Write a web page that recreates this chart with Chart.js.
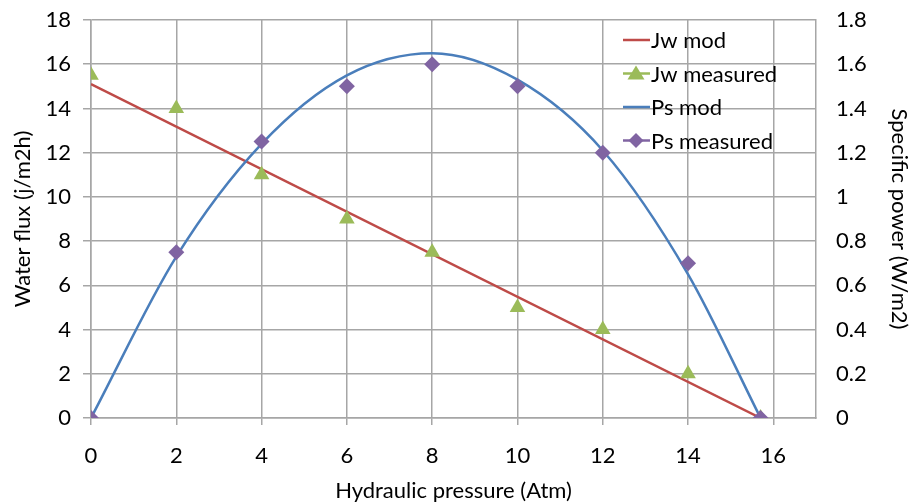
<!DOCTYPE html>
<html lang="en">
<head>
<meta charset="UTF-8">
<title>Water flux and specific power</title>
<script src="https://cdn.jsdelivr.net/npm/chart.js"></script>
<style>
    body, html { margin: 0; padding: 0; background: #fff; }
    #wrap { width: 912px; height: 504px; position: relative; }
</style>
</head>
<body>
<div id="wrap"><canvas id="chartCanvas" width="912" height="504"></canvas></div>
<script>
// pressure (Atm) where measurements were taken
const pressure = [0, 2, 4, 6, 8, 10, 12, 14, 15.7];
const jwMeasured = [15.5, 14, 11, 9, 7.5, 5, 4, 2, 0];
const psMeasured = [0, 0.75, 1.25, 1.5, 1.6, 1.5, 1.2, 0.7, 0];

// model lines
const jwModX = [0, 15.7];
const jwModY = [15.1, 0];
const psModX = [0, 2, 4, 6, 8, 10, 12, 14, 15.7];
const psModY = [0, 0.73, 1.24, 1.55, 1.65, 1.53, 1.21, 0.65, 0];

const RED = '#be4b48', GREEN = '#9bbb59', BLUE = '#4a7ebb', PURPLE = '#8064a2';
const GRID = '#a6a6a6';
const FONT = 'Lato, "Open Sans", sans-serif';
const FSIZE = 22;

const pts = (xs, ys) => xs.map((x, i) => ({ x: x, y: ys[i] }));

// legend drawn inside the plot, like Excel does
const legendItems = [
    { label: 'Jw mod', color: RED, type: 'line' },
    { label: 'Jw measured', color: GREEN, type: 'triangle' },
    { label: 'Ps mod', color: BLUE, type: 'line' },
    { label: 'Ps measured', color: PURPLE, type: 'diamond' }
];

const insideLegend = {
    id: 'insideLegend',
    afterDraw(chart) {
        const ctx = chart.ctx;
        ctx.save();
        ctx.font = FSIZE + 'px ' + FONT;
        ctx.textBaseline = 'middle';
        legendItems.forEach((it, i) => {
            const y = 40 + i * 33.5;
            ctx.strokeStyle = it.color;
            ctx.lineWidth = 2.5;
            ctx.beginPath();
            ctx.moveTo(623, y);
            ctx.lineTo(650, y);
            ctx.stroke();
            ctx.fillStyle = it.color;
            if (it.type === 'triangle') {
                ctx.beginPath();
                ctx.moveTo(636, y - 8);
                ctx.lineTo(644.5, y + 6);
                ctx.lineTo(627.5, y + 6);
                ctx.closePath();
                ctx.fill();
            } else if (it.type === 'diamond') {
                ctx.beginPath();
                ctx.moveTo(636, y - 7.5);
                ctx.lineTo(643.5, y);
                ctx.lineTo(636, y + 7.5);
                ctx.lineTo(628.5, y);
                ctx.closePath();
                ctx.fill();
            }
            ctx.fillStyle = '#000';
            ctx.fillText(it.label, 651, y + 1);
        });
        ctx.restore();
    }
};

// keep the vertical axes from pushing the plot area down
const fitVertical = w => s => { s.width = w; s.paddingTop = 0; s.paddingBottom = 0; };

new Chart(document.getElementById('chartCanvas'), {
    type: 'scatter',
    data: {
        datasets: [
            { label: 'Jw mod', data: pts(jwModX, jwModY), showLine: true, borderColor: RED, borderWidth: 2.5, pointRadius: 0, yAxisID: 'y', order: 4 },
            { label: 'Ps mod', data: pts(psModX, psModY), showLine: true, borderColor: BLUE, borderWidth: 2.5, pointRadius: 0, tension: 0.4, cubicInterpolationMode: 'monotone', yAxisID: 'y1', order: 3 },
            { label: 'Jw measured', data: pts(pressure, jwMeasured), showLine: false, pointStyle: 'triangle', pointRadius: 9, backgroundColor: GREEN, borderColor: GREEN, borderWidth: 0, yAxisID: 'y', order: 2 },
            { label: 'Ps measured', data: pts(pressure, psMeasured), showLine: false, pointStyle: 'rectRot', pointRadius: 8, backgroundColor: PURPLE, borderColor: PURPLE, borderWidth: 0, yAxisID: 'y1', order: 1 }
        ]
    },
    options: {
        responsive: false,
        animation: false,
        layout: { padding: { top: 20, left: 0, right: 0, bottom: 0 } },
        plugins: { legend: { display: false }, tooltip: { enabled: false } },
        scales: {
            x: {
                type: 'linear', min: 0, max: 17,
                afterBuildTicks: s => { s.ticks = s.ticks.filter(t => t.value % 2 === 0); },
                afterFit: s => { s.height = 86; s.paddingLeft = 0; s.paddingRight = 0; },
                ticks: { stepSize: 2, color: '#000', font: { family: FONT, size: FSIZE }, padding: 18 },
                grid: { color: GRID, lineWidth: 1.5, tickLength: 7 },
                border: { color: GRID, width: 1.5 },
                title: { display: true, text: 'Hydraulic pressure (Atm)', color: '#000', font: { family: FONT, size: FSIZE }, padding: { top: 11, bottom: 0 } }
            },
            y: {
                position: 'left', min: 0, max: 18,
                afterFit: fitVertical(91),
                ticks: { stepSize: 2, color: '#000', font: { family: FONT, size: FSIZE }, padding: 12 },
                grid: { color: GRID, lineWidth: 1.5, tickLength: 8 },
                border: { color: GRID, width: 1.5 },
                title: { display: true, text: 'Water flux (j/m2h)', color: '#000', font: { family: FONT, size: FSIZE }, padding: { top: 10, bottom: 0 } }
            },
            y1: {
                position: 'right', min: 0, max: 1.8,
                afterFit: fitVertical(96),
                ticks: { stepSize: 0.2, color: '#000', font: { family: FONT, size: FSIZE }, padding: 20,
                    callback: v => Math.round(v * 10) / 10 },
                grid: { drawOnChartArea: false, drawTicks: false },
                border: { color: GRID, width: 1.5 },
                title: { display: true, text: 'Specific power (W/m2)', color: '#000', font: { family: FONT, size: FSIZE }, padding: 0 }
            }
        }
    },
    plugins: [insideLegend]
});
</script>
</body>
</html>
